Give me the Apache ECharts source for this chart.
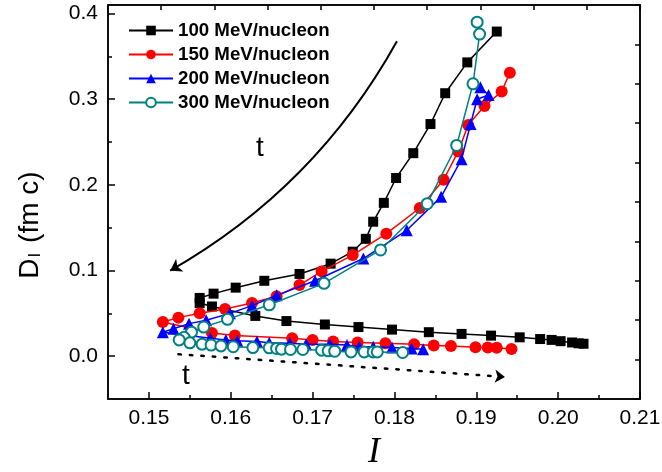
<!DOCTYPE html>
<html><head><meta charset="utf-8">
<script src="https://cdn.jsdelivr.net/npm/echarts@6/dist/echarts.min.js"></script>
<style>html,body{margin:0;padding:0;background:#fff}#c{width:662px;height:472px}</style>
</head><body><div id="c"></div>
<script>
const seriesNames = ['100 MeV/nucleon', '150 MeV/nucleon', '200 MeV/nucleon', '300 MeV/nucleon'];
const seriesColors = ['#000000', '#ff0000', '#0000ff', '#008080'];

const i100 = [0.1925,0.1889,0.1862,0.1844,0.1823,0.1802,0.1787,0.1774,0.1765,0.1749,0.1722,0.1684,0.1641,0.1606,0.1579,0.1562,0.1562,0.1577,0.1630,0.1668,0.1715,0.1756,0.1797,0.1842,0.1882,0.1918,0.1953,0.1978,0.1992,0.2003,0.2017,0.2025,0.2031];
const d100 = [0.379,0.343,0.307,0.271,0.237,0.208,0.179,0.157,0.137,0.122,0.108,0.096,0.088,0.080,0.073,0.068,0.062,0.058,0.047,0.041,0.037,0.034,0.031,0.028,0.026,0.024,0.022,0.020,0.019,0.0175,0.016,0.015,0.0145];

const i150 = [0.1941,0.1931,0.1910,0.1890,0.1878,0.1860,0.1831,0.1790,0.1749,0.1711,0.1684,0.1656,0.1626,0.1593,0.1562,0.1536,0.1517,0.1577,0.1605,0.1675,0.1700,0.1725,0.1755,0.1789,0.1824,0.1848,0.1869,0.1899,0.1914,0.1925,0.1943];
const d150 = [0.331,0.309,0.292,0.270,0.239,0.206,0.173,0.143,0.118,0.099,0.083,0.070,0.062,0.055,0.050,0.045,0.040,0.027,0.024,0.021,0.019,0.017,0.016,0.015,0.014,0.0125,0.012,0.0105,0.010,0.0097,0.0085];

const i200 = [0.1905,0.1915,0.1901,0.1893,0.1882,0.1857,0.1815,0.1762,0.1703,0.1656,0.1626,0.1599,0.1570,0.1549,0.1530,0.1517,0.1575,0.1594,0.1608,0.1632,0.1647,0.1672,0.1692,0.1721,0.1742,0.1757,0.1774,0.1797,0.1821,0.1835];
const d200 = [0.314,0.305,0.300,0.271,0.230,0.186,0.147,0.114,0.088,0.071,0.059,0.050,0.042,0.038,0.032,0.028,0.021,0.019,0.018,0.017,0.0156,0.015,0.014,0.014,0.013,0.011,0.011,0.010,0.009,0.008];

const i300 = [0.1901,0.1904,0.1896,0.1876,0.1840,0.1783,0.1714,0.1647,0.1596,0.1567,0.1552,0.1543,0.1537,0.1550,0.1565,0.1576,0.1588,0.1603,0.1627,0.1647,0.1656,0.1662,0.1673,0.1688,0.1711,0.1719,0.1727,0.1747,0.1763,0.1774,0.1779,0.1810];
const d300 = [0.390,0.376,0.318,0.246,0.178,0.124,0.085,0.060,0.043,0.034,0.028,0.022,0.019,0.0156,0.014,0.013,0.012,0.011,0.010,0.0097,0.009,0.0082,0.0078,0.0078,0.007,0.0062,0.0058,0.005,0.005,0.005,0.005,0.0043];

const xMajorTicks = [0.15,0.16,0.17,0.18,0.19,0.20,0.21];
const xMinorTicks = [0.155,0.165,0.175,0.185,0.195,0.205];
const yMajorTicks = [0.0,0.1,0.2,0.3,0.4];
const yMinorTicks = [0.05,0.15,0.25,0.35];

// annotation arrows (data coordinates)
const arrowSolid = [[0.1803,0.3676],[0.1526,0.0998]];
const arrowDotted = [[0.1536,0.0023],[0.1935,-0.0242]];

const zip = (xs, ys) => xs.map((x, k) => [x, ys[k]]);
const allX = [i100, i150, i200, i300];
const allY = [d100, d150, d200, d300];
const symbols = ['rect', 'circle', 'triangle', 'emptyCircle'];
const symbolSizes = [10, 12, 12, 11];

const chart = echarts.init(document.getElementById('c'), null, {renderer: 'canvas'});
const mkLine = () => ({show: true, onZero: false, lineStyle: {color: '#000', width: 1.5}});
const noLine = () => ({show: false, onZero: false});
const tickStyle = {color: '#000', width: 1.5};
const FONT = 'Liberation Sans';
const mkGrid = (frame) => ({left: 108, right: 22, top: 5, bottom: 73, show: frame,
  outerBoundsMode: 'none', containLabel: false,
  borderColor: '#000', borderWidth: 1.5, backgroundColor: 'transparent'});

const dataSeries = seriesNames.map((nm, k) => ({
  name: nm, type: 'line', xAxisIndex: 0, yAxisIndex: 0,
  data: zip(allX[k], allY[k]),
  symbol: symbols[k], symbolSize: symbolSizes[k], showSymbol: true,
  lineStyle: {color: seriesColors[k], width: 1.5},
  itemStyle: k === 3 ? {color: seriesColors[k], borderColor: seriesColors[k], borderWidth: 1.3} : {color: seriesColors[k]},
  emphasis: {disabled: true}, animation: false, z: 3 + k
}));

chart.setOption({
  animation: false,
  backgroundColor: '#fff',
  grid: [mkGrid(true), mkGrid(false)],
  legend: {
    data: seriesNames, orient: 'vertical', left: 128, top: 20, padding: 0,
    itemWidth: 44, itemHeight: 12, itemGap: 3,
    textStyle: {fontFamily: FONT, fontWeight: 'bold', fontSize: 18.7, color: '#000', lineHeight: 21}
  },
  xAxis: [
    {gridIndex: 0, type: 'value', position: 'bottom', min: 0.145, max: 0.21,
     axisLine: mkLine(), splitLine: {show: false},
     axisTick: {inside: true, length: 7, customValues: xMajorTicks, lineStyle: tickStyle},
     axisLabel: {customValues: xMajorTicks, formatter: v => v.toFixed(2), fontFamily: FONT, fontSize: 21, color: '#000', margin: 9},
     name: 'I', nameLocation: 'middle', nameGap: 36,
     nameTextStyle: {fontFamily: 'Liberation Serif', fontStyle: 'italic', fontSize: 36, color: '#000'}},
    {gridIndex: 0, type: 'value', position: 'top', min: 0, max: 10, interval: 1,
     axisLine: mkLine(), splitLine: {show: false},
     axisTick: {inside: true, length: 5, lineStyle: tickStyle},
     axisLabel: {show: false}},
    {gridIndex: 1, type: 'value', position: 'bottom', min: 0.145, max: 0.21,
     axisLine: noLine(), splitLine: {show: false},
     axisTick: {inside: true, length: 4, customValues: xMinorTicks, lineStyle: tickStyle},
     axisLabel: {show: false}}
  ],
  yAxis: [
    {gridIndex: 0, type: 'value', position: 'left', min: -0.05, max: 0.41,
     axisLine: mkLine(), splitLine: {show: false},
     axisTick: {inside: true, length: 7, customValues: yMajorTicks, lineStyle: tickStyle},
     axisLabel: {customValues: yMajorTicks, formatter: v => v.toFixed(1), fontFamily: FONT, fontSize: 21, color: '#000', margin: 10}},
    {gridIndex: 0, type: 'value', position: 'right', min: 0, max: 10, interval: 1,
     axisLine: mkLine(), splitLine: {show: false},
     axisTick: {inside: true, length: 5, lineStyle: tickStyle},
     axisLabel: {show: false}},
    {gridIndex: 1, type: 'value', position: 'left', min: -0.05, max: 0.41,
     axisLine: noLine(), splitLine: {show: false},
     axisTick: {inside: true, length: 4, customValues: yMinorTicks, lineStyle: tickStyle},
     axisLabel: {show: false}}
  ],
  series: [
    {type: 'lines', coordinateSystem: 'cartesian2d', xAxisIndex: 0, yAxisIndex: 0, silent: true,
     symbol: ['none', 'arrow'], symbolSize: 11,
     lineStyle: {color: '#000', width: 2, curveness: 0.14, opacity: 1},
     data: [{coords: arrowSolid}], z: 1},
    {type: 'lines', coordinateSystem: 'cartesian2d', xAxisIndex: 0, yAxisIndex: 0, silent: true,
     symbol: ['none', 'arrow'], symbolSize: 10,
     lineStyle: {color: '#000', width: 2.5, type: [2.5, 9], cap: 'round', curveness: 0, opacity: 1},
     data: [{coords: arrowDotted}], z: 1}
  ].concat(dataSeries),
  graphic: [
    {type: 'text', left: 256, top: 134, style: {text: 't', fontFamily: FONT, fontSize: 28, fill: '#000'}},
    {type: 'text', left: 182, top: 362, style: {text: 't', fontFamily: FONT, fontSize: 28, fill: '#000'}},
    {type: 'text', x: 27, y: 225, rotation: Math.PI / 2,
     style: {text: '{a|D}{b|I}{a| (fm c)}', align: 'center', verticalAlign: 'middle',
       rich: {
         a: {fontFamily: FONT, fontSize: 28, fill: '#000', verticalAlign: 'bottom', lineHeight: 34},
         b: {fontFamily: FONT, fontSize: 17, fill: '#000', verticalAlign: 'bottom', lineHeight: 28, padding: [10, 2, 0, 1]}
       }}}
  ]
});
</script>
</body></html>
